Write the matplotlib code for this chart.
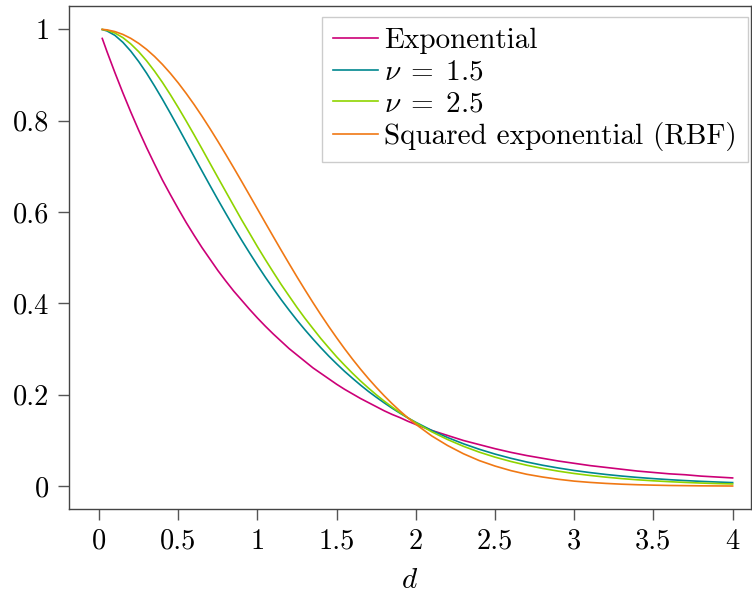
import matplotlib
matplotlib.use('Agg')
import matplotlib.pyplot as plt

plt.rcParams['font.family'] = 'serif'
plt.rcParams['font.serif'] = ['cmr10', 'DejaVu Serif']
plt.rcParams['mathtext.fontset'] = 'cm'
plt.rcParams['axes.formatter.use_mathtext'] = True

# 거리 d (곡률이 큰 0~2 구간은 촘촘하게)
d = [0.02, 0.05, 0.1, 0.15, 0.2, 0.25, 0.3, 0.35, 0.4, 0.45, 0.5,
     0.55, 0.6, 0.65, 0.7, 0.75, 0.8, 0.85, 0.9, 0.95, 1.0,
     1.05, 1.1, 1.15, 1.2, 1.25, 1.3, 1.35, 1.4, 1.45, 1.5,
     1.55, 1.6, 1.65, 1.7, 1.75, 1.8, 1.85, 1.9, 1.95, 2.0,
     2.1, 2.2, 2.3, 2.4, 2.5, 2.6, 2.7, 2.8, 2.9, 3.0,
     3.1, 3.2, 3.3, 3.4, 3.5, 3.6, 3.7, 3.8, 3.9, 4.0]

exponential = [0.980, 0.951, 0.905, 0.861, 0.819, 0.779, 0.741, 0.705, 0.670, 0.638, 0.607,
               0.577, 0.549, 0.522, 0.497, 0.472, 0.449, 0.427, 0.407, 0.387, 0.368,
               0.350, 0.333, 0.317, 0.301, 0.287, 0.273, 0.259, 0.247, 0.235, 0.223,
               0.212, 0.202, 0.192, 0.183, 0.174, 0.165, 0.157, 0.150, 0.142, 0.135,
               0.122, 0.111, 0.100, 0.091, 0.082, 0.074, 0.067, 0.061, 0.055, 0.050,
               0.045, 0.041, 0.037, 0.033, 0.030, 0.027, 0.025, 0.022, 0.020, 0.018]

nu15 = [0.9994, 0.9964, 0.9867, 0.9716, 0.9522, 0.9294, 0.9039, 0.8760, 0.8468, 0.8162, 0.7849,
        0.7531, 0.7213, 0.6896, 0.6582, 0.6272, 0.5969, 0.5671, 0.5384, 0.5106, 0.4834,
        0.4572, 0.4323, 0.4081, 0.3851, 0.3630, 0.3421, 0.3222, 0.3031, 0.2848, 0.2677,
        0.2513, 0.2361, 0.2214, 0.2075, 0.1947, 0.1824, 0.1707, 0.1597, 0.1493, 0.1397,
        0.1220, 0.1065, 0.0928, 0.0808, 0.0702, 0.0610, 0.0529, 0.0458, 0.0397, 0.0343,
        0.0297, 0.0256, 0.0221, 0.0191, 0.0165, 0.0142, 0.0122, 0.0105, 0.0091, 0.0078]

nu25 = [0.9997, 0.9979, 0.9918, 0.9818, 0.9680, 0.9510, 0.9310, 0.9084, 0.8837, 0.8569, 0.8286,
        0.7992, 0.7690, 0.7382, 0.7068, 0.6756, 0.6446, 0.6137, 0.5829, 0.5536, 0.5240,
        0.4957, 0.4682, 0.4413, 0.4160, 0.3910, 0.3673, 0.3451, 0.3232, 0.3029, 0.2830,
        0.2647, 0.2471, 0.2305, 0.2149, 0.2001, 0.1862, 0.1732, 0.1609, 0.1494, 0.1386,
        0.1191, 0.1021, 0.0873, 0.0745, 0.0635, 0.0540, 0.0458, 0.0388, 0.0328, 0.0277,
        0.0234, 0.0197, 0.0165, 0.0139, 0.0117, 0.0098, 0.0082, 0.0068, 0.0057, 0.0048]

rbf = [0.9998, 0.9988, 0.9950, 0.9888, 0.9802, 0.9692, 0.9560, 0.9406, 0.9231, 0.9037, 0.8825,
       0.8596, 0.8353, 0.8096, 0.7827, 0.7548, 0.7261, 0.6968, 0.6670, 0.6368, 0.6065,
       0.5762, 0.5461, 0.5162, 0.4868, 0.4578, 0.4296, 0.4020, 0.3753, 0.3495, 0.3247,
       0.3008, 0.2780, 0.2563, 0.2357, 0.2163, 0.1979, 0.1806, 0.1645, 0.1494, 0.1353,
       0.110, 0.089, 0.071, 0.056, 0.044, 0.034, 0.026, 0.020, 0.015, 0.011,
       0.0082, 0.0060, 0.0043, 0.0031, 0.0022, 0.0015, 0.0011, 0.0007, 0.0005, 0.0003]

xticks = [0, 0.5, 1, 1.5, 2, 2.5, 3, 3.5, 4]
xticklabels = ['0', '0.5', '1', '1.5', '2', '2.5', '3', '3.5', '4']
yticks = [0, 0.2, 0.4, 0.6, 0.8, 1]
yticklabels = ['0', '0.2', '0.4', '0.6', '0.8', '1']

fig = plt.figure(figsize=(7.52, 5.94), dpi=100)
ax = fig.add_axes([69 / 752, 85 / 594, 682 / 752, 503 / 594])

lw = 1.2
ax.plot(d, exponential, color='#cc0077', lw=lw, label='Exponential')
ax.plot(d, nu15, color='#00878f', lw=lw, label=r'$\nu \;=\; 1.5$')
ax.plot(d, nu25, color='#8fd400', lw=lw, label=r'$\nu \;=\; 2.5$')
ax.plot(d, rbf, color='#f07814', lw=lw, label='Squared exponential (RBF)')

ax.set_xlim(-0.19, 4.116)
ax.set_ylim(-0.05, 1.051)
ax.set_xticks(xticks)
ax.set_xticklabels(xticklabels)
ax.set_yticks(yticks)
ax.set_yticklabels(yticklabels)
ax.tick_params(direction='out', length=8, width=1, color='#555555', labelsize=20.5, pad=6)
for s in ax.spines.values():
    s.set_color('#444444')
    s.set_linewidth(1)

ax.set_xlabel(r'$d$', fontsize=21, labelpad=9)

leg = ax.legend(loc='upper right', bbox_to_anchor=(748 / 752, 1 - 17 / 594),
                bbox_transform=fig.transFigure, borderaxespad=0,
                fontsize=21, frameon=True, fancybox=False,
                edgecolor='#cccccc', framealpha=1, handlelength=1.55, handletextpad=0.2,
                borderpad=0.38, labelspacing=0.17)
leg.get_frame().set_linewidth(1)

plt.savefig('out.png', dpi=100)
